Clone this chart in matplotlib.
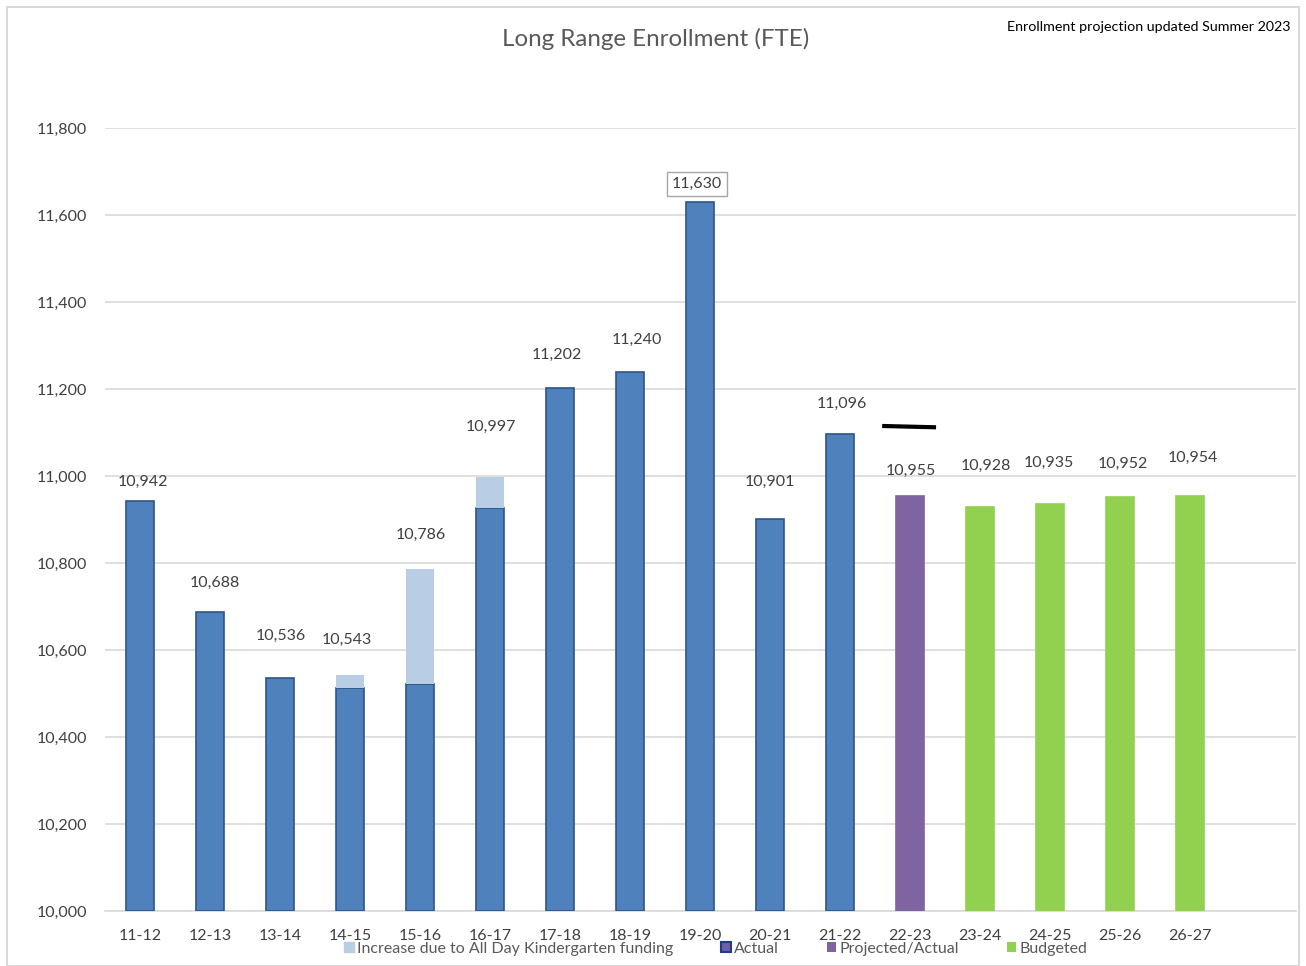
import matplotlib.pyplot as plt
from matplotlib.patches import Patch, Rectangle

plt.rcParams['font.family'] = ['Lato', 'DejaVu Sans']

# enrollment by school year (FTE)
years = ['11-12', '12-13', '13-14', '14-15', '15-16', '16-17', '17-18', '18-19',
         '19-20', '20-21', '21-22', '22-23', '23-24', '24-25', '25-26', '26-27']
totals = [10942, 10688, 10536, 10543, 10786, 10997, 11202, 11240,
          11630, 10901, 11096, 10955, 10928, 10935, 10952, 10954]
# actual enrollment before the all day kindergarten increase
base = [10942, 10688, 10536, 10513, 10522, 10926, 11202, 11240,
        11630, 10901, 11096, 10955, 10928, 10935, 10952, 10954]
status = ['Actual'] * 11 + ['Projected/Actual'] + ['Budgeted'] * 4
earlier_projection = 11115  # hand-drawn marker over 22-23

# value labels were nudged by hand: (dx, dy) in pixels from the bar top
label_shift = [(3, 19), (5, 29), (1, 42), (-3, 35), (1, 34), (1, 50), (-3, 33), (7, 32),
               (-3, 18), (0, 37), (2, 30), (1, 25), (6, 41), (-1, 41), (3, 33), (3, 38)]

colors = {'Actual': '#4F81BD', 'Projected/Actual': '#8064A2', 'Budgeted': '#92D050'}
edges = {'Actual': '#2F5487', 'Projected/Actual': '#8064A2', 'Budgeted': '#92D050'}
light = '#B9CDE5'
floor = 10000

fig = plt.figure(figsize=(13.06, 9.66), dpi=100)
ax = fig.add_axes([0.0804, 0.0569, 0.9119, 0.8106])

x = list(range(len(years)))
w = 0.4
for i in x:
    s = status[i]
    ax.bar(i, base[i] - floor, bottom=floor, width=w, color=colors[s],
           edgecolor=edges[s], linewidth=1.2, zorder=3)
    extra = totals[i] - base[i]
    if extra > 0:
        ax.bar(i, extra, bottom=base[i], width=w, color=light,
               edgecolor=light, linewidth=0, zorder=3)
    label = f'{totals[i]:,}'
    box = None
    if totals[i] == max(totals):
        box = dict(boxstyle='square,pad=0.3', fc='white', ec='#A6A6A6', lw=1)
    ax.annotate(label, (i, totals[i]), xytext=label_shift[i], textcoords='offset pixels',
                ha='center', va='center', fontsize=11.5, color='#404040', bbox=box)

ax.plot([11 - 0.4, 11 + 0.37], [earlier_projection, earlier_projection - 3],
        color='black', lw=3, solid_capstyle='butt', zorder=4)

ax.set_ylim(floor, 11800)
ax.set_xlim(-0.5, 16.51)
ax.set_yticks(range(10000, 11801, 200))
ax.set_yticklabels([f'{v:,}' for v in range(10000, 11801, 200)])
ax.set_xticks(x)
ax.set_xticklabels(years)
ax.tick_params(length=0, labelsize=11.5, colors='#404040')
ax.tick_params(axis='y', pad=13)
ax.tick_params(axis='x', pad=13)
ax.grid(axis='y', color='#D9D9D9', lw=1.2, zorder=0)
for sp in ['top', 'right', 'left']:
    ax.spines[sp].set_visible(False)
ax.spines['bottom'].set_color('#D9D9D9')
ax.spines['bottom'].set_linewidth(1.2)

fig.text(0.502, 0.960, 'Long Range Enrollment (FTE)', ha='center', va='center',
         fontsize=17.4, color='#595959')
fig.text(0.988, 0.972, 'Enrollment projection updated Summer 2023', ha='right',
         va='center', fontsize=10.3, color='black')

handles = [Patch(facecolor=light, edgecolor=light, label='Increase due to All Day Kindergarten funding'),
           Patch(facecolor='#6F5FA8', edgecolor='#1F3C88', lw=1.5, label='Actual'),
           Patch(facecolor=colors['Projected/Actual'], label='Projected/Actual'),
           Patch(facecolor=colors['Budgeted'], label='Budgeted')]
fig.legend(handles=handles, loc='center', bbox_to_anchor=(0.548, 0.018), ncol=4,
           frameon=False, fontsize=11.5, handlelength=0.6, handleheight=0.6,
           handletextpad=0.2, columnspacing=3.0, labelcolor='#595959')

fig.add_artist(Rectangle((0.005, 0.0), 0.99, 0.993, transform=fig.transFigure,
                         fill=False, ec='#D9D9D9', lw=1.5))

fig.savefig('out.png', dpi=100)
